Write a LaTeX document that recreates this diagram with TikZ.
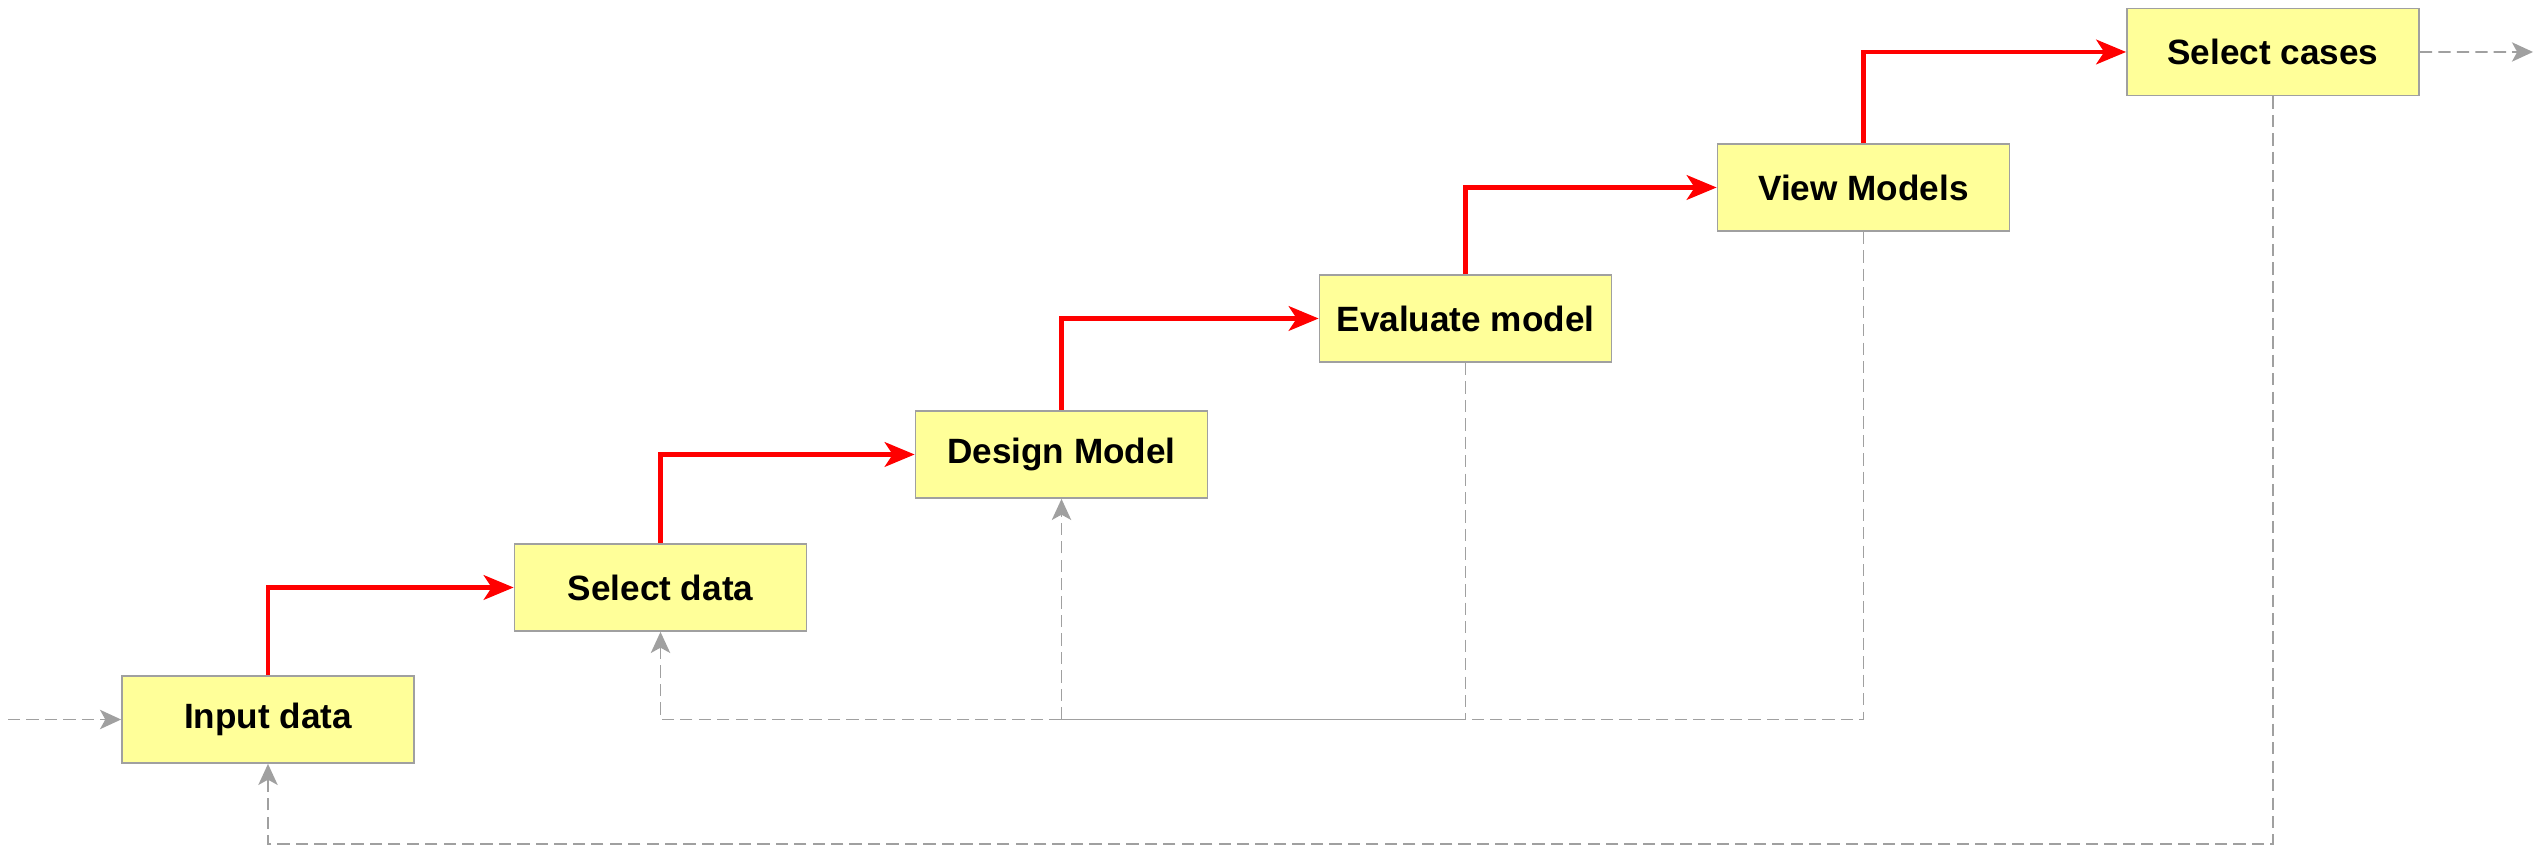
\documentclass[tikz,border=0pt]{standalone}
\usepackage{fontspec}
\setsansfont{Liberation Sans}
\usetikzlibrary{arrows.meta,positioning}
\definecolor{boxfill}{RGB}{255,255,153}
\definecolor{boxline}{RGB}{160,160,160}
\definecolor{flowred}{RGB}{255,0,0}

\begin{document}
\begin{tikzpicture}
  \tikzstyle{stage} = [draw=boxline, line width=1pt, fill=boxfill, rectangle, minimum height=1.74cm, minimum width=5.84cm, font={\sffamily\bfseries\fontsize{20}{24}\selectfont}]
  \tikzstyle{flow} = [flowred, line width=2.6pt, -{Stealth[length=17pt,width=14pt,inset=4.5pt]}]
  \tikzstyle{back} = [boxline, line width=1.1pt, dash pattern=on 7pt off 3.5pt]
  \tikzstyle{backArrow} = [back, -{Stealth[length=12pt,width=11pt,inset=3pt]}]

  \useasboundingbox (0,0) rectangle (50.7,17.04);

  \node[stage]                                             (input)  at (5.36,2.65) {Input data};
  \node[stage, on grid, above right=2.64cm and 7.85cm of input]  (select) {Select data};
  \node[stage, on grid, above right=2.66cm and 8.02cm of select] (design) {Design Model};
  \node[stage, on grid, above right=2.72cm and 8.08cm of design] (eval)   {Evaluate model};
  \node[stage, on grid, above right=2.62cm and 7.96cm of eval]   (view)   {View Models};
  \node[stage, on grid, above right=2.71cm and 8.19cm of view]   (cases)  {Select cases};

  \draw[flow] (input.north)  |- (select.west);
  \draw[flow] (select.north) |- (design.west);
  \draw[flow] (design.north) |- (eval.west);
  \draw[flow] (eval.north)   |- (view.west);
  \draw[flow] (view.north)   |- (cases.west);

  \coordinate (start)   at (0.16,2.65);
  \coordinate (finish)  at (50.66,16.0);
  \coordinate (floor)   at (0,0.16);
  \coordinate (jEval)   at (eval.south |- input);
  \coordinate (jDesign) at (design.south |- input);

  \draw[backArrow] (start) -- (input);
  \draw[backArrow] (cases) -- (finish);
  \draw[backArrow] (cases.south) -- (cases.south |- floor) -| (input.south);

  \draw[back] (view.south) |- (jEval);
  \draw[back] (eval.south) -- (jEval);
  \draw[boxline, line width=1.1pt] (jEval) -- (jDesign);
  \draw[backArrow] (jDesign) -- (design.south);
  \draw[backArrow] (jDesign) -| (select.south);
\end{tikzpicture}
\end{document}
